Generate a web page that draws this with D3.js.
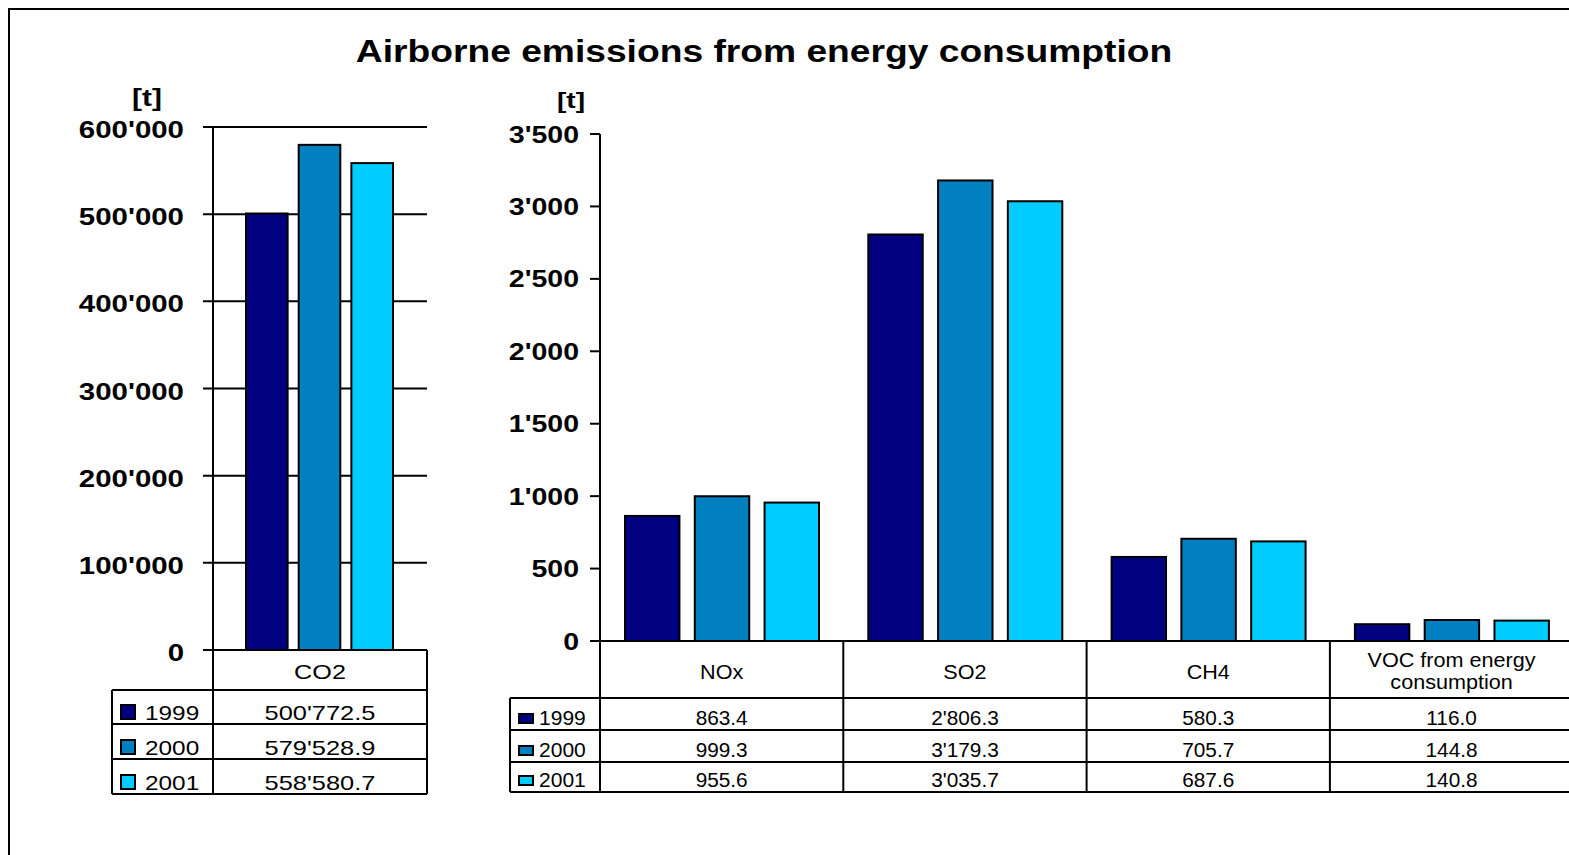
<!DOCTYPE html>
<html><head><meta charset="utf-8">
<script src="https://cdn.jsdelivr.net/npm/d3@7"></script>
<style>
html,body{margin:0;padding:0;background:#fff;}
svg{display:block;font-family:"Liberation Sans",Arial,sans-serif;}
</style></head>
<body>
<svg id="chart" width="1569" height="855"></svg>
<script>
// ---- data ----
const title = "Airborne emissions from energy consumption";
const unitLabel = "[t]";
const years = ["1999", "2000", "2001"];
const co2Categories = ["CO2"];
const co2Values = { "1999": [500772.5], "2000": [579528.9], "2001": [558580.7] };
const co2Ticks = [0, 100000, 200000, 300000, 400000, 500000, 600000];
const otherCategories = ["NOx", "SO2", "CH4", "VOC from energy consumption"];
const otherValues = {
  "1999": [863.4, 2806.3, 580.3, 116.0],
  "2000": [999.3, 3179.3, 705.7, 144.8],
  "2001": [955.6, 3035.7, 687.6, 140.8]
};
const otherTicks = [0, 500, 1000, 1500, 2000, 2500, 3000, 3500];
const colors = ["#000080", "#0080C0", "#00CCFF"];

// ---- setup ----
const svg = d3.select("#chart");
const loc = d3.formatLocale({decimal: ".", thousands: "'", grouping: [3], currency: ["", ""]});
const fmtTick = loc.format(",");
const fmtVal = loc.format(",.1f");
const color = d3.scaleOrdinal().domain(years).range(colors);

function stext(g, x, y, str, o) {
  return g.append("text")
    .attr("transform", `translate(${x},${y}) scale(${o.sx || 1},1)`)
    .attr("text-anchor", o.anchor || "middle")
    .attr("font-size", o.size)
    .attr("font-weight", o.weight || "normal")
    .attr("fill", "#000")
    .text(str);
}
function line(g, x1, y1, x2, y2, w) {
  g.append("line").attr("x1", x1).attr("y1", y1).attr("x2", x2).attr("y2", y2)
    .attr("stroke", "#000").attr("stroke-width", w || 2);
}

// outer frame
svg.append("rect").attr("x", 9).attr("y", 9).attr("width", 1600).attr("height", 900)
  .attr("fill", "none").attr("stroke", "#000").attr("stroke-width", 2);

// title
stext(svg, 764, 62, title, {size: 31, weight: "bold", sx: 1.2});

// ================= LEFT: CO2 =================
const L = {x0: 213, x1: 427, yTop: 127, yBase: 650, legX: 112, rows: [690, 724, 759, 794]};
const gL = svg.append("g");
const yL = d3.scaleLinear().domain([0, 600000]).range([L.yBase, L.yTop]);
const xL0 = d3.scaleBand().domain(co2Categories).range([L.x0, L.x1]).padding(0);
const xL1 = d3.scaleBand().domain(years).range([33, 180]).paddingInner(0.21);

// gridlines
co2Ticks.forEach(t => { line(gL, L.x0 - 10, yL(t), L.x1, yL(t), 2); });
// tick labels
co2Ticks.forEach(t => {
  stext(gL, 184, yL(t) + 11, fmtTick(t), {size: 23, weight: "bold", sx: 1.28, anchor: "end"});
});
stext(gL, 147, 106, unitLabel, {size: 23, weight: "bold", sx: 1.3});

// bars
co2Categories.forEach((c, i) => {
  years.forEach(yr => {
    const v = co2Values[yr][i];
    gL.append("rect")
      .attr("x", xL0(c) + xL1(yr)).attr("y", yL(v))
      .attr("width", xL1.bandwidth()).attr("height", yL(0) - yL(v))
      .attr("fill", color(yr)).attr("stroke", "#000").attr("stroke-width", 2);
  });
});

// table
line(gL, L.x0, L.yTop, L.x0, L.rows[3], 2);
line(gL, L.x1, L.yBase, L.x1, L.rows[3], 2);
line(gL, L.legX, L.rows[0], L.legX, L.rows[3], 2);
L.rows.forEach(r => line(gL, L.legX, r, L.x1, r, 2));
co2Categories.forEach(c => {
  stext(gL, xL0(c) + xL0.bandwidth() / 2, 679, c, {size: 21, sx: 1.2});
});
years.forEach((yr, j) => {
  const rb = L.rows[j + 1];
  gL.append("rect").attr("x", 121).attr("y", rb - 19).attr("width", 14).attr("height", 14)
    .attr("fill", color(yr)).attr("stroke", "#000").attr("stroke-width", 2);
  stext(gL, 145, rb - 4, yr, {size: 21, sx: 1.16, anchor: "start"});
  co2Categories.forEach((c, i) => {
    stext(gL, xL0(c) + xL0.bandwidth() / 2, rb - 4.5, fmtVal(co2Values[yr][i]), {size: 21, sx: 1.21});
  });
});

// ================= RIGHT: other emissions =================
const R = {x0: 600, colW: 243.3, yTop: 134, yBase: 641, legX: 510, rows: [698, 730, 762, 792]};
const gR = svg.append("g");
const yR = d3.scaleLinear().domain([0, 3500]).range([R.yBase, R.yTop]);
const xR0 = d3.scaleBand().domain(otherCategories).range([R.x0, R.x0 + R.colW * otherCategories.length]).padding(0);
const xR1 = d3.scaleBand().domain(years).range([25, 219]).paddingInner(0.22);

// axis ticks
otherTicks.forEach(t => {
  line(gR, R.x0 - 10, yR(t), R.x0, yR(t), 2);
  stext(gR, 579, yR(t) + 8.5, fmtTick(t), {size: 23, weight: "bold", sx: 1.24, anchor: "end"});
});
stext(gR, 571, 108, unitLabel, {size: 22, weight: "bold", sx: 1.28});

// bars
otherCategories.forEach((c, i) => {
  years.forEach(yr => {
    const v = otherValues[yr][i];
    gR.append("rect")
      .attr("x", xR0(c) + xR1(yr)).attr("y", yR(v))
      .attr("width", xR1.bandwidth()).attr("height", yR(0) - yR(v))
      .attr("fill", color(yr)).attr("stroke", "#000").attr("stroke-width", 2);
  });
});

// table lines
const xEnd = xR0.range()[1];
line(gR, R.x0 - 10, R.yBase, xEnd, R.yBase, 2);
line(gR, R.x0, R.yTop, R.x0, R.rows[3], 2);
line(gR, R.legX, R.rows[0], R.legX, R.rows[3], 2);
R.rows.forEach(r => line(gR, R.legX, r, xEnd, r, 2));
otherCategories.forEach(c => {
  line(gR, xR0(c) + xR0.bandwidth(), R.yBase, xR0(c) + xR0.bandwidth(), R.rows[3], 2);
});

// category labels with wrapping
const catSx = 1.08, catSize = 20, maxW = 225;
otherCategories.forEach(c => {
  const cx = xR0(c) + xR0.bandwidth() / 2;
  const words = c.split(" ");
  const lines = [];
  let cur = "";
  const probe = gR.append("text").attr("font-size", catSize);
  words.forEach(w => {
    const test = cur ? cur + " " + w : w;
    probe.text(test);
    if (probe.node().getComputedTextLength() * catSx > maxW && cur) { lines.push(cur); cur = w; }
    else cur = test;
  });
  lines.push(cur);
  probe.remove();
  if (lines.length === 1) {
    stext(gR, cx, 679, lines[0], {size: catSize, sx: catSx});
  } else {
    lines.forEach((ln, k) => stext(gR, cx, 667 + k * 22, ln, {size: catSize, sx: catSx}));
  }
});

years.forEach((yr, j) => {
  const rb = R.rows[j + 1];
  gR.append("rect").attr("x", 519).attr("y", rb - 16).attr("width", 14).attr("height", 9)
    .attr("fill", color(yr)).attr("stroke", "#000").attr("stroke-width", 2);
  stext(gR, 539, rb - 5, yr, {size: 19.5, sx: 1.08, anchor: "start"});
  otherCategories.forEach((c, i) => {
    stext(gR, xR0(c) + xR0.bandwidth() / 2, rb - 5, fmtVal(otherValues[yr][i]), {size: 20, sx: 1.04});
  });
});
</script>
</body></html>
